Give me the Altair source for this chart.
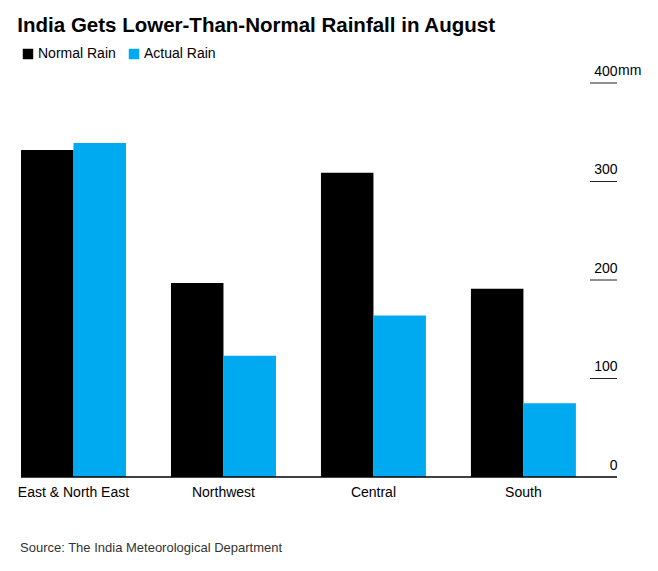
import altair as alt
import pandas as pd

# ---- data ----
regions = ["East & North East", "Northwest", "Central", "South"]
series = ["Normal Rain", "Actual Rain"]
normal_rain = [332, 197, 309, 191]
actual_rain = [339, 123, 164, 75]
tick_values = [0, 100, 200, 300, 400]
colors = ["#000000", "#00AAF0"]
title_text = "India Gets Lower-Than-Normal Rainfall in August"
source_text = "Source: The India Meteorological Department"

W, H = 596, 394
FONT = "Liberation Sans"

rows = []
for r, n, a in zip(regions, normal_rain, actual_rain):
    rows.append({"region": r, "series": series[0], "value": n})
    rows.append({"region": r, "series": series[1], "value": a})
df = pd.DataFrame(rows)

y_axis = alt.Axis(
    orient="right", values=tick_values, title=None, ticks=False,
    domain=False, grid=False, labelAlign="right", labelPadding=0,
    labelBaseline="bottom", labelOffset=-5, labelFontSize=14,
    labelFont=FONT, labelColor="#000000",
)
y_scale = alt.Scale(domain=[0, 400], nice=False)

bars = alt.Chart(df).mark_bar().encode(
    x=alt.X(
        "region:N",
        sort=regions,
        scale=alt.Scale(paddingInner=0.3, paddingOuter=0.137, align=0),
        axis=alt.Axis(
            title=None, labelAngle=0, ticks=False, domain=False,
            labelFontSize=14, labelFont=FONT, labelColor="#000000",
            labelPadding=8,
        ),
    ),
    xOffset=alt.XOffset("series:N", sort=series,
                        scale=alt.Scale(paddingInner=0, paddingOuter=0)),
    y=alt.Y("value:Q", scale=y_scale, axis=y_axis),
    color=alt.Color(
        "series:N",
        sort=series,
        scale=alt.Scale(domain=series, range=colors),
        legend=alt.Legend(
            orient="none", legendX=0, legendY=-36, direction="horizontal",
            title=None, symbolType="square", symbolSize=110,
            symbolStrokeWidth=0, labelFontSize=14, labelFont=FONT,
            labelColor="#000000", columnPadding=11, labelOffset=3, padding=0,
        ),
    ),
)

tick_df = pd.DataFrame({"value": tick_values[1:]})
tick_rules = alt.Chart(tick_df).mark_rule(color="#222222", strokeWidth=1).encode(
    y=alt.Y("value:Q", scale=y_scale, axis=y_axis),
    x=alt.value(W - 27),
    x2=alt.value(W),
)

baseline = alt.Chart(pd.DataFrame({"value": [0]})).mark_rule(
    color="#000000", strokeWidth=1.5
).encode(y=alt.Y("value:Q", scale=y_scale, axis=y_axis))

unit = alt.Chart(pd.DataFrame({"value": [400], "t": ["mm"]})).mark_text(
    align="left", baseline="bottom", dy=-5, fontSize=14, font=FONT, color="#000000"
).encode(y=alt.Y("value:Q", scale=y_scale, axis=y_axis), x=alt.value(W + 1), text="t:N")

source = alt.Chart(pd.DataFrame({"t": [source_text]})).mark_text(
    align="left", baseline="middle", fontSize=13, font=FONT, color="#333333"
).encode(x=alt.value(-1), y=alt.value(H + 71), text="t:N")

chart = alt.layer(bars, tick_rules, baseline, unit, source).properties(
    width=W,
    height=H,
    title=alt.TitleParams(
        title_text, anchor="start", font=FONT, fontSize=20.5, fontWeight="bold",
        color="#000000", offset=0, dy=9, baseline="bottom",
    ),
    padding={"left": 13, "top": 75, "right": 30, "bottom": 80},
    autosize=alt.AutoSizeParams(type="none"),
).configure_view(stroke=None)

chart.save("out.html", embed_options={"renderer": "svg", "actions": False})
